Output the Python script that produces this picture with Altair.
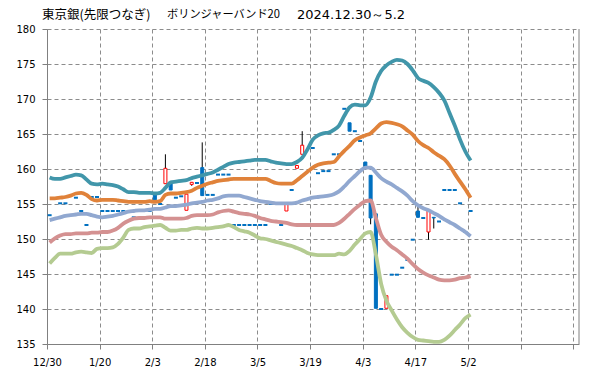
import altair as alt
import pandas as pd

# ---- axis labels (trading-day index -> date label) ----
tick_index = [0, 10, 20, 30, 40, 50, 60, 70, 80, 90, 100]
tick_text = ["12/30", "1/20", "2/3", "2/18", "3/5", "3/19", "4/3", "4/17", "5/2", "", ""]
y_ticks = [135, 140, 145, 150, 155, 160, 165, 170, 175, 180]

# ---- Bollinger band lines (index 0..80) ----
upper2 = [158.8,158.6,158.6,158.8,159.0,159.2,159.1,158.5,157.9,157.8,
          157.9,157.8,157.7,157.5,157.1,156.7,156.7,156.6,156.6,156.6,
          156.5,156.6,157.3,158.1,158.2,158.3,158.4,158.7,158.9,159.1,
          159.3,159.5,159.9,160.3,160.7,160.9,161.0,161.1,161.2,161.3,
          161.3,161.3,161.1,160.9,160.8,160.7,160.7,161.0,161.6,162.8,
          164.2,164.8,165.1,165.2,165.6,166.2,167.6,168.8,169.2,169.1,
          169.1,170.2,172.5,174.0,174.8,175.3,175.6,175.5,175.0,174.1,
          173.0,172.6,172.3,171.7,170.9,169.8,168.0,166.2,164.2,162.5,
          161.2]
upper1 = [155.8,155.8,155.9,156.0,156.2,156.5,156.6,156.3,155.7,155.5,
          155.6,155.6,155.6,155.5,155.4,155.3,155.3,155.3,155.3,155.4,
          155.3,155.4,156.3,156.5,156.5,156.6,156.7,156.9,157.3,157.6,
          157.9,158.1,158.3,158.4,158.5,158.6,158.6,158.6,158.6,158.6,
          158.6,158.6,158.3,158.0,157.9,157.9,157.9,158.4,159.0,159.6,
          160.2,160.6,160.8,160.9,161.0,161.8,162.6,163.3,164.1,164.5,
          164.8,165.1,165.8,166.5,166.7,166.6,166.4,166.1,165.5,164.9,
          164.0,163.4,163.0,162.4,161.9,161.4,160.5,159.3,158.2,157.1,
          155.9]
middle = [152.7,152.9,153.1,153.3,153.4,153.5,153.6,153.6,153.4,153.2,
          153.1,153.2,153.3,153.5,153.7,153.9,154.0,154.1,154.1,154.2,
          154.3,154.3,154.5,154.7,154.7,154.8,154.9,155.1,155.2,155.3,
          155.5,155.6,155.8,156.1,156.2,156.2,156.2,156.0,155.8,155.6,
          155.4,155.3,155.2,155.1,155.1,155.1,155.1,155.2,155.5,155.7,
          155.9,156.0,156.1,156.2,156.4,156.8,157.5,158.3,159.0,159.7,
          160.2,160.2,159.5,158.7,158.2,157.8,157.3,156.8,156.2,155.4,
          154.8,154.4,154.1,153.7,153.3,152.8,152.4,152.0,151.5,151.0,
          150.4]
lower1 = [149.5,150.1,150.5,150.7,150.7,150.8,150.8,150.8,150.9,150.9,
          151.0,151.0,151.2,151.6,152.2,152.6,152.9,153.0,153.0,153.1,
          153.1,153.1,152.9,152.9,152.9,152.9,153.0,153.3,153.4,153.4,
          153.4,153.5,153.8,154.0,154.1,153.9,153.7,153.6,153.5,153.3,
          153.0,152.8,152.6,152.5,152.4,152.3,152.1,152.0,152.0,152.0,
          152.0,152.0,152.0,152.0,152.0,152.3,152.9,153.6,154.3,154.9,
          155.4,155.5,153.0,150.6,149.6,148.9,148.4,147.8,147.2,146.4,
          145.7,145.2,144.8,144.5,144.2,144.1,144.1,144.2,144.4,144.5,
          144.7]
lower2 = [146.5,147.3,147.9,147.9,147.9,148.1,148.2,148.1,148.0,148.6,
          148.7,148.7,148.8,149.3,150.2,151.3,151.5,151.5,151.7,151.8,
          151.9,152.0,151.6,151.2,151.2,151.3,151.3,151.5,151.6,151.5,
          151.5,151.6,151.7,151.8,152.0,151.7,151.3,151.1,150.9,150.5,
          150.1,150.0,149.8,149.6,149.4,149.2,149.0,148.7,148.4,148.0,
          147.8,147.7,147.7,147.7,147.7,147.9,147.8,148.3,149.2,150.0,
          150.8,151.0,147.8,143.6,141.2,139.8,138.5,137.4,136.6,136.0,
          135.6,135.5,135.4,135.3,135.3,135.6,136.2,137.0,137.8,138.7,
          139.2]

# ---- candles: day index, open, high, low, close ----
c_day   = [0, 2, 3, 5, 6, 7, 8, 9, 10, 11, 12, 13, 14, 16, 19, 20, 21, 22, 23, 24,
           25, 26, 27, 28, 29, 30, 31, 32, 33, 34, 35, 36, 37, 38, 39, 40, 41, 42, 43, 44,
           45, 46, 47, 48, 50, 51, 52, 53, 54, 55, 56, 57, 58, 59, 60, 61, 62, 63, 64, 65,
           66, 67, 68, 69, 70, 71, 72, 73, 74, 75, 76, 77, 78, 79, 80]
c_open  = [153.4, 155.1, 155.1, 155.9, 154.0, 152.0, 156.0, 156.0, 154.0, 154.0, 154.0, 154.0, 154.0, 153.1, 154.0, 156.5, 155.0, 157.9, 158.0, 155.9,
           156.1, 154.1, 157.8, 158.0, 160.2, 156.3, 156.3, 159.2, 159.2, 159.2, 152.0, 152.0, 152.0, 152.0, 152.0, 152.0, 152.0, 155.0, 155.0, 152.0,
           154.0, 157.0, 160.1, 162.1, 163.0, 159.4, 159.7, 159.7, 162.1, 162.1, 168.6, 166.6, 165.4, 164.0, 161.0, 159.1, 153.6, 140.0, 140.1, 144.9,
           144.9, 145.9, 147.0, 149.9, 154.0, 153.0, 151.0, 153.1, 152.5, 157.0, 157.0, 157.0, 155.1, 151.0, 154.0]
c_high  = [153.4, 155.1, 155.1, 155.9, 154.0, 152.0, 156.0, 156.0, 154.0, 154.0, 154.0, 154.0, 154.0, 153.1, 154.0, 156.5, 155.0, 162.1, 158.0, 155.9,
           156.1, 156.4, 158.1, 158.0, 163.8, 156.3, 156.3, 159.2, 159.2, 159.2, 152.0, 152.0, 152.0, 152.0, 152.0, 152.0, 152.0, 155.0, 155.0, 152.0,
           155.0, 157.0, 160.5, 165.4, 163.0, 159.4, 159.7, 159.7, 162.1, 162.1, 168.6, 166.6, 165.4, 164.0, 161.0, 159.1, 153.6, 140.0, 141.9, 144.9,
           144.9, 145.9, 147.0, 149.9, 155.0, 153.0, 154.1, 153.1, 152.5, 157.0, 157.0, 157.0, 155.1, 151.0, 154.0]
c_low   = [153.4, 155.1, 155.1, 155.9, 154.0, 152.0, 156.0, 156.0, 154.0, 154.0, 154.0, 154.0, 154.0, 153.1, 154.0, 155.6, 155.0, 157.9, 157.0, 155.9,
           156.1, 154.1, 157.6, 158.0, 156.2, 156.3, 156.3, 159.2, 159.2, 159.2, 152.0, 152.0, 152.0, 152.0, 152.0, 152.0, 152.0, 155.0, 155.0, 152.0,
           154.0, 157.0, 160.1, 162.1, 163.0, 159.4, 159.7, 159.7, 162.1, 162.1, 168.6, 165.4, 165.4, 164.0, 160.3, 152.1, 140.1, 140.0, 140.1, 144.9,
           144.9, 145.9, 147.0, 149.9, 153.1, 153.0, 149.9, 151.5, 152.5, 157.0, 157.0, 157.0, 155.1, 151.0, 154.0]
c_close = [153.4, 155.1, 155.1, 155.9, 154.0, 152.0, 156.0, 156.0, 154.0, 154.0, 154.0, 154.0, 154.0, 153.1, 154.0, 155.6, 155.0, 160.1, 157.0, 155.9,
           156.1, 156.4, 158.1, 158.0, 156.2, 156.3, 156.3, 159.2, 159.2, 159.2, 152.0, 152.0, 152.0, 152.0, 152.0, 152.0, 152.0, 155.0, 155.0, 152.0,
           155.0, 157.0, 160.5, 163.4, 163.0, 159.4, 159.7, 159.7, 162.1, 162.1, 168.6, 165.4, 165.4, 164.0, 160.3, 153.0, 140.1, 140.0, 141.9, 144.9,
           144.9, 145.9, 147.0, 149.9, 153.1, 153.0, 154.1, 153.0, 152.5, 157.0, 157.0, 157.0, 155.1, 151.0, 154.0]

title_parts = ["東京銀(先限つなぎ)", "ボリンジャーバンド20", "2024.12.30～5.2"]

# ---------------------------------------------------------------
W, H = 532, 315
series_names = ["+2σ", "+1σ", "MA20", "-1σ", "-2σ"]
series_vals = [upper2, upper1, middle, lower1, lower2]
series_colors = ["#4196AA", "#E0823A", "#91A8D0", "#D49191", "#B4CB91"]

rows = []
for name, vals in zip(series_names, series_vals):
    for i, v in enumerate(vals):
        rows.append({"s": name, "xc": i + 0.5, "v": v})
lines_df = pd.DataFrame(rows)

cdf = pd.DataFrame({"day": c_day, "o": c_open, "h": c_high, "l": c_low, "c": c_close})
cdf["xc"] = cdf["day"] + 0.5
cdf["top"] = cdf[["o", "c"]].max(axis=1)
cdf["bot"] = cdf[["o", "c"]].min(axis=1)
flat = cdf[cdf["o"] == cdf["c"]]
up = cdf[cdf["c"] > cdf["o"]]
down = cdf[cdf["c"] < cdf["o"]]
wick = cdf[(cdf["h"] > cdf["top"]) | (cdf["l"] < cdf["bot"])]

label_expr = "".join(f"datum.value == {v} ? '{t}' : " for v, t in zip(tick_index, tick_text)) + "''"

xscale = alt.Scale(domain=[0, 101.1], nice=False, zero=False, padding=0)
yscale = alt.Scale(domain=[135, 180], nice=False, zero=False, padding=0)
xaxis = alt.Axis(values=tick_index, labelExpr=label_expr, title=None, grid=True,
                 labelFlush=False, labelOverlap=False, tickSize=5, labelPadding=8)
yaxis = alt.Axis(values=y_ticks, format="d", title=None, grid=True, tickSize=5,
                 labelPadding=7)


def X(field):
    return alt.X(f"{field}:Q", scale=xscale, axis=xaxis)


def Y(field):
    return alt.Y(f"{field}:Q", scale=yscale, axis=yaxis)


wicks = alt.Chart(wick).mark_rule(color="black", strokeWidth=1).encode(
    x=X("xc"), y=Y("l"), y2="h:Q")

down_bars = alt.Chart(down).mark_bar(size=3, color="#0070C0", stroke="#0070C0",
                                     strokeWidth=1).encode(x=X("xc"), y=Y("top"), y2="bot:Q")
up_bars = alt.Chart(up).mark_bar(size=3, color="white", fill="white", stroke="#FF0000",
                                 strokeWidth=1).encode(x=X("xc"), y=Y("top"), y2="bot:Q")
dashes = alt.Chart(flat).mark_tick(orient="horizontal", size=4, thickness=2,
                                   color="#0070C0", opacity=1).encode(x=X("xc"), y=Y("c"))

lines = alt.Chart(lines_df).mark_line(strokeWidth=3.8, interpolate="monotone").encode(
    x=X("xc"), y=Y("v"),
    color=alt.Color("s:N", scale=alt.Scale(domain=series_names, range=series_colors), legend=None),
    detail="s:N")

one = pd.DataFrame({"k": [0]})
right_border = alt.Chart(one).mark_rule(color="#808080", strokeWidth=1).encode(
    x=alt.value(W), y=alt.value(0), y2=alt.value(H))

title_specs = [(title_parts[0], -5, "Noto Sans CJK JP", 12.5),
               (title_parts[1], 120, "Noto Sans CJK JP", 11.2),
               (title_parts[2], 250, "DejaVu Sans", 13)]
titles = [alt.Chart(one).mark_text(text=t, align="left", baseline="middle",
                                   font=f, fontSize=fs, color="black").encode(
    x=alt.value(px), y=alt.value(-14.5)) for t, px, f, fs in title_specs]

chart = alt.layer(wicks, down_bars, up_bars, dashes, lines, right_border, *titles).properties(
    width=W, height=H,
    autosize=alt.AutoSizeParams(type="none"),
    padding={"left": 39, "top": 21, "right": 12, "bottom": 25},
    background="white",
).configure_axis(
    labelFont="DejaVu Sans", labelFontSize=10, labelColor="black",
    gridColor="#8C8C8C", gridDash=[4, 3], gridWidth=1,
    domainColor="#808080", tickColor="#808080",
).configure_view(stroke=None)

chart.save("out.html", embed_options={"renderer": "svg", "actions": False})
